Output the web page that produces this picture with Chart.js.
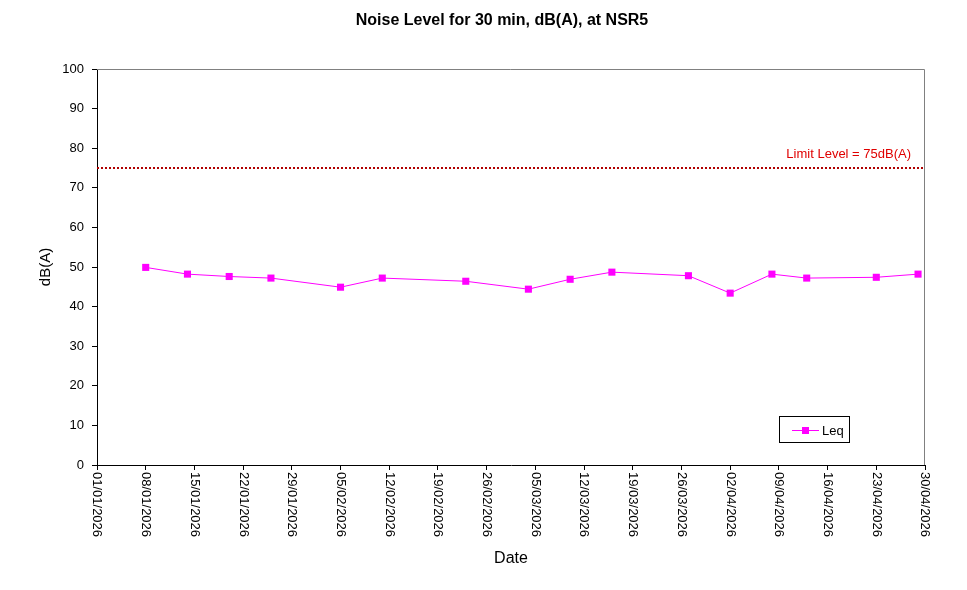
<!DOCTYPE html>
<html><head><meta charset="utf-8">
<script src="https://cdn.jsdelivr.net/npm/chart.js@4.4.1/dist/chart.umd.min.js"></script>
<style>html,body{margin:0;padding:0;background:#fff;}canvas{display:block;}</style>
</head><body>
<canvas id="c" width="967" height="590"></canvas>
<script>
// ---- data ----
const dates = ['08/01/2026','14/01/2026','20/01/2026','26/01/2026','05/02/2026','11/02/2026','23/02/2026','04/03/2026','10/03/2026','16/03/2026','27/03/2026','02/04/2026','08/04/2026','13/04/2026','23/04/2026','29/04/2026'];
const leq = [49.9,48.2,47.6,47.2,44.9,47.2,46.4,44.4,46.9,48.7,47.8,43.4,48.2,47.2,47.4,48.2];
const limitLevel = 75;
const limitLabel = 'Limit Level = 75dB(A)';
const axisStart = '01/01/2026';
const axisEnd = '30/04/2026';
const xTickStepDays = 7;
const yMin = 0, yMax = 100, yStep = 10;
const titleText = 'Noise Level for 30 min, dB(A), at NSR5';
const xTitle = 'Date';
const yTitle = 'dB(A)';
const seriesName = 'Leq';

const FONT = '"Liberation Sans", Arial, sans-serif';
const DAY = 86400000;
function parseD(s){const p=s.split('/');return Date.UTC(+p[2],+p[1]-1,+p[0]);}
const t0 = parseD(axisStart);
function toDay(s){return Math.round((parseD(s)-t0)/DAY);}
function fmt(v){const d=new Date(t0+v*DAY);const dd=String(d.getUTCDate()).padStart(2,'0');const mm=String(d.getUTCMonth()+1).padStart(2,'0');return dd+'/'+mm+'/'+d.getUTCFullYear();}
const xMax = toDay(axisEnd);

const leqPoints = dates.map((d,i)=>({x:toDay(d), y:leq[i]}));
const limitPoints = [{x:0,y:limitLevel},{x:xMax,y:limitLevel}];

const decor = {
  id:'decor',
  afterDraw(chart){
    const ctx = chart.ctx, a = chart.chartArea;
    const xs = chart.scales.x, ys = chart.scales.y;
    ctx.save();
    // grey top/right border
    ctx.strokeStyle = '#808080'; ctx.lineWidth = 1;
    ctx.beginPath();
    ctx.moveTo(a.left, Math.round(a.top)+0.5);
    ctx.lineTo(Math.round(a.right)-0.5, Math.round(a.top)+0.5);
    ctx.lineTo(Math.round(a.right)-0.5, a.bottom);
    ctx.stroke();
    // title
    ctx.fillStyle = '#000';
    ctx.font = 'bold 16px ' + FONT;
    ctx.textAlign = 'center'; ctx.textBaseline = 'middle';
    ctx.fillText(titleText, 502, 21);
    // x title
    ctx.font = '16px ' + FONT;
    ctx.fillText(xTitle, 511, 559);
    // y title
    ctx.save();
    ctx.translate(46, 267);
    ctx.rotate(-Math.PI/2);
    ctx.font = '15px ' + FONT;
    ctx.fillText(yTitle, 0, 0);
    ctx.restore();
    // x tick labels (rotated clockwise)
    ctx.font = '13px ' + FONT;
    ctx.textAlign = 'left'; ctx.textBaseline = 'middle';
    xs.ticks.forEach(t=>{
      const x = xs.getPixelForValue(t.value);
      ctx.save();
      ctx.translate(x, a.bottom + 7);
      ctx.rotate(Math.PI/2);
      ctx.fillText(fmt(t.value), 0, 0);
      ctx.restore();
    });
    // limit label
    ctx.fillStyle = '#e00000';
    ctx.textAlign = 'right';
    ctx.font = '13px ' + FONT;
    ctx.fillText(limitLabel, a.right - 14, ys.getPixelForValue(limitLevel) - 14);
    // legend
    ctx.strokeStyle = '#000'; ctx.lineWidth = 1;
    ctx.strokeRect(779.5, 416.5, 70, 26);
    ctx.strokeStyle = '#ff00ff';
    ctx.beginPath(); ctx.moveTo(792, 430.5); ctx.lineTo(819, 430.5); ctx.stroke();
    ctx.fillStyle = '#ff00ff';
    ctx.fillRect(802, 427, 7, 7);
    ctx.fillStyle = '#000';
    ctx.textAlign = 'left';
    ctx.fillText(seriesName, 822, 431);
    ctx.restore();
  }
};

new Chart(document.getElementById('c'), {
  type: 'line',
  data: {
    datasets: [
      {label: seriesName, data: leqPoints, borderColor:'#ff00ff', backgroundColor:'#ff00ff', borderWidth:1,
       pointStyle:'rect', pointRadius:5, pointBorderWidth:0, pointBackgroundColor:'#ff00ff', tension:0},
      {label: 'Limit', data: limitPoints, borderColor:'#b00000', borderWidth:2, borderDash:[2,2], pointRadius:0, fill:false}
    ]
  },
  options: {
    responsive:false, animation:false, devicePixelRatio:1,
    layout:{padding:{top:69, right:42, left:0, bottom:0}},
    plugins:{legend:{display:false}, title:{display:false}, tooltip:{enabled:false}},
    scales:{
      x:{type:'linear', min:0, max:xMax,
         afterBuildTicks(s){const t=[];for(let v=0;v<=xMax;v+=xTickStepDays)t.push({value:v});s.ticks=t;},
         ticks:{autoSkip:false, maxRotation:90, minRotation:90, color:'rgba(0,0,0,0)', callback:(v)=>fmt(v), font:{family:FONT,size:13}},
         grid:{drawOnChartArea:false, drawTicks:true, tickLength:5, color:'#000'},
         border:{color:'#000', width:1},
         afterFit(s){s.height=125;}},
      y:{min:yMin, max:yMax,
         ticks:{stepSize:yStep, color:'#000', padding:8, font:{family:FONT,size:13}},
         grid:{drawOnChartArea:false, drawTicks:true, tickLength:5, color:'#000'},
         border:{color:'#000', width:1},
         afterFit(s){s.width=97;}}
    }
  },
  plugins:[decor]
});
</script>
</body></html>
